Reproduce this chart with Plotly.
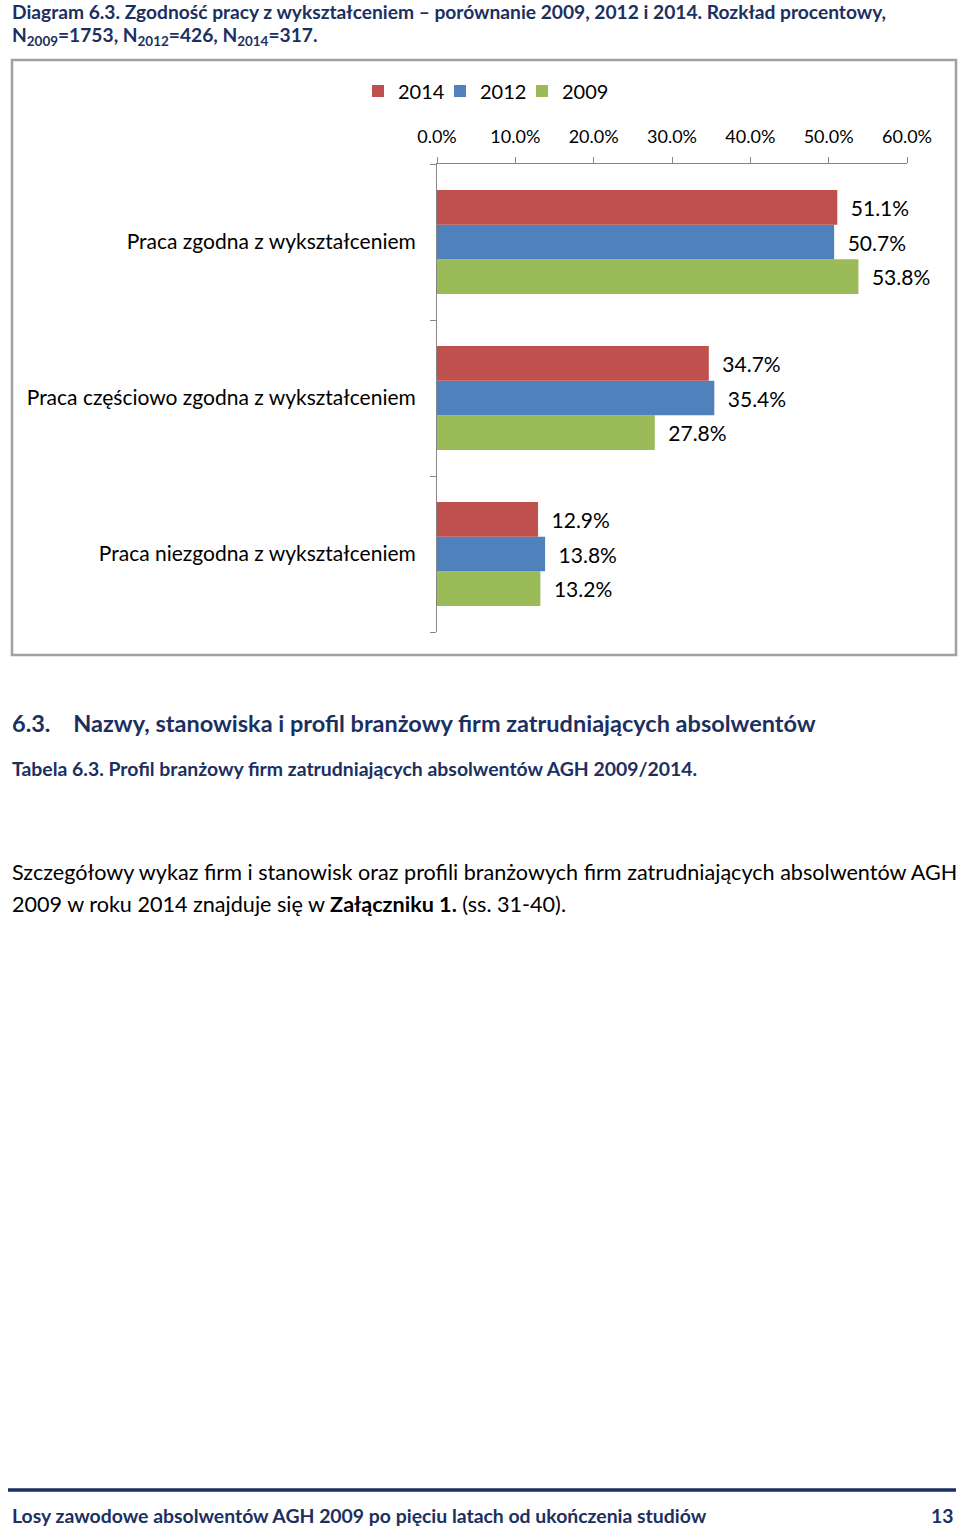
import plotly.graph_objects as go

# ---- data ----
categories = [
    "Praca zgodna z wykształceniem",
    "Praca częściowo zgodna z wykształceniem",
    "Praca niezgodna z wykształceniem",
]
values_2014 = [51.1, 34.7, 12.9]
values_2012 = [50.7, 35.4, 13.8]
values_2009 = [53.8, 27.8, 13.2]
tick_vals = [0, 10, 20, 30, 40, 50, 60]
tick_labels = ["0.0%", "10.0%", "20.0%", "30.0%", "40.0%", "50.0%", "60.0%"]

# ---- styles ----
W, H = 960, 1527
NAVY = "#1B3061"
FONT = "Lato"
col = {"2014": "#C0504D", "2012": "#4F81BD", "2009": "#9BBB59"}
legend_slot = {"2014": ("legend", 358), "2012": ("legend2", 440), "2009": ("legend3", 522)}


def px(x):
    return x / W


def py(y):
    return 1 - y / H


fig = go.Figure()
for name, vals in [("2009", values_2009), ("2012", values_2012), ("2014", values_2014)]:
    fig.add_trace(go.Bar(
        name=name, y=categories, x=vals, orientation="h",
        marker=dict(color=col[name], line=dict(width=0)),
        texttemplate="\u2002%{x:.1f}%", textposition="outside",
        textfont=dict(family=FONT, size=21, color="#000000"),
        constraintext="none",
        cliponaxis=False,
        legend=legend_slot[name][0],
    ))


def leg(xpos):
    return dict(
        orientation="h", x=px(xpos), xanchor="left", y=py(91), yanchor="middle",
        font=dict(family=FONT, size=20, color="#000000"),
        itemwidth=30, bgcolor="rgba(0,0,0,0)",
    )


fig.update_layout(
    width=W, height=H,
    margin=dict(l=0, r=0, t=0, b=0, pad=0, autoexpand=False),
    paper_bgcolor="white", plot_bgcolor="white",
    barmode="group", bargap=0.333, bargroupgap=0,
    font=dict(family=FONT, color="#000000"),
    showlegend=True,
    legend=leg(legend_slot["2014"][1]),
    legend2=leg(legend_slot["2012"][1]),
    legend3=leg(legend_slot["2009"][1]),
    xaxis=dict(
        domain=[px(437), px(907)], range=[0, 60], side="top",
        tickvals=tick_vals, ticktext=tick_labels,
        ticks="outside", ticklen=6, tickcolor="#868686",
        showline=True, linecolor="#868686", linewidth=1,
        showgrid=False, zeroline=False, automargin=False,
        tickfont=dict(family=FONT, size=18, color="#000000"),
        ticklabelstandoff=7,
        anchor="y",
    ),
    yaxis=dict(
        domain=[py(632), py(164)],
        categoryorder="array", categoryarray=categories[::-1],
        ticks="outside", ticklen=6, tickcolor="#868686", tickson="boundaries",
        showline=True, linecolor="#868686", linewidth=1,
        showgrid=False, zeroline=False, automargin=False,
        tickfont=dict(family=FONT, size=21, color="#000000"),
        ticklabelstandoff=16,
    ),
)

# chart frame
fig.add_shape(type="rect", xref="paper", yref="paper",
              x0=px(12), x1=px(956), y0=py(655), y1=py(60),
              line=dict(color="#A0A0A0", width=2.5), layer="below")

# footer line
fig.add_shape(type="line", xref="paper", yref="paper",
              x0=px(8), x1=px(956), y0=py(1490), y1=py(1490),
              line=dict(color=NAVY, width=3.5))


def text(x, y, s, size, color="#000000", bold=False, anchor="left"):
    if bold:
        s = "<b>" + s + "</b>"
    fig.add_annotation(xref="paper", yref="paper", x=px(x), y=py(y), text=s,
                       showarrow=False, xanchor=anchor, yanchor="middle",
                       font=dict(family=FONT, size=size, color=color), align=anchor)


text(10, 11, "Diagram 6.3. Zgodność pracy z wykształceniem – porównanie 2009, 2012 i 2014. Rozkład procentowy,",
     19.2, NAVY, True)
text(10, 36, "N<sub>2009</sub>=1753, N<sub>2012</sub>=426, N<sub>2014</sub>=317.", 19.2, NAVY, True)
text(10, 723, "6.3.    Nazwy, stanowiska i profil branżowy firm zatrudniających absolwentów", 23.5, NAVY, True)
text(10, 768, "Tabela 6.3. Profil branżowy firm zatrudniających absolwentów AGH 2009/2014.", 19.4, NAVY, True)
text(10, 872, "Szczegółowy wykaz firm i stanowisk oraz profili branżowych firm zatrudniających absolwentów AGH",
     21.6)
text(10, 904, "2009 w roku 2014 znajduje się w <b>Załączniku 1.</b> (ss. 31-40).", 21.6)
text(10, 1515, "Losy zawodowe absolwentów AGH 2009 po pięciu latach od ukończenia studiów", 19.4, NAVY, True)
text(956, 1515, "13", 19.4, NAVY, True, anchor="right")

fig.write_html("out.html", config={"displayModeBar": False},
               post_script="document.body.style.margin='0';")
